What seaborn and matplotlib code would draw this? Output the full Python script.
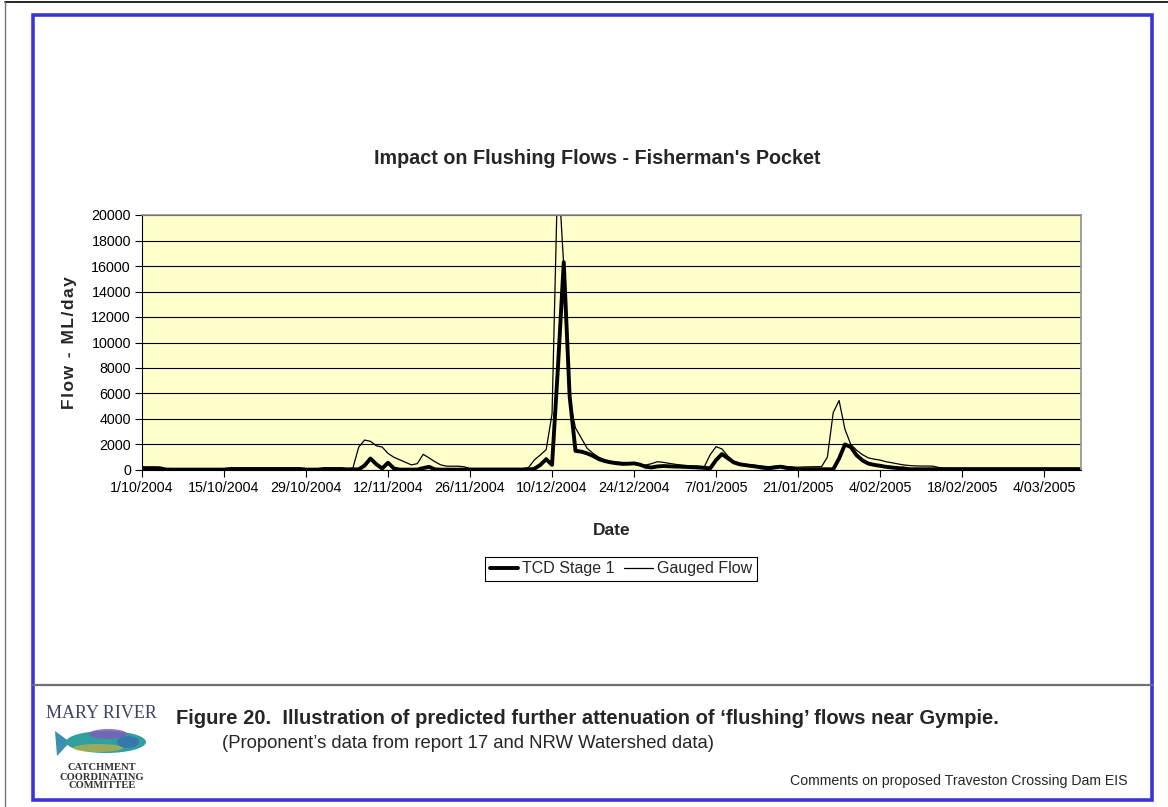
import numpy as np
import pandas as pd
import matplotlib
matplotlib.use("Agg")
import matplotlib.pyplot as plt
import matplotlib.dates as mdates
from matplotlib.patches import Rectangle, Ellipse, Polygon
from matplotlib.lines import Line2D
import seaborn as sns

# ---------------- data (daily, from 1/10/2004) ----------------
start_date = "2004-10-01"
n_days = 161

gauged_flow = [
    150, 150, 150, 140, 60, 50, 50, 50, 50, 50,
    50, 50, 50, 50, 60, 120, 120, 120, 120, 120,
    120, 120, 120, 120, 120, 120, 120, 110, 60, 50,
    50, 90, 100, 100, 80, 80, 150, 1800, 2350, 2250,
    1900, 1800, 1300, 1000, 800, 600, 400, 500, 1230, 950,
    650, 400, 300, 300, 300, 250, 120, 120, 120, 120,
    120, 120, 120, 120, 120, 120, 200, 800, 1180, 1600,
    4400, 23900, 16000, 5500, 3300, 2500, 1700, 1300, 1000, 800,
    680, 620, 590, 575, 520, 450, 390, 500, 650, 600,
    520, 450, 390, 350, 320, 300, 260, 1200, 1830, 1650,
    1100, 700, 520, 450, 390, 350, 300, 260, 300, 340,
    280, 220, 220, 240, 250, 260, 260, 1000, 4500, 5450,
    3200, 2000, 1550, 1200, 950, 850, 780, 650, 570, 480,
    400, 350, 320, 310, 310, 300, 200, 150, 150, 150,
    150, 150, 150, 150, 150, 150, 150, 150, 150, 150,
    150, 150, 150, 150, 150, 150, 150, 150, 150, 150,
    150,
]

tcd_stage1 = [
    150, 150, 150, 140, 40, 30, 30, 30, 30, 30,
    30, 30, 30, 30, 30, 80, 80, 80, 80, 80,
    80, 80, 80, 80, 80, 80, 80, 80, 30, 30,
    30, 80, 80, 80, 80, 50, 50, 50, 350, 900,
    450, 120, 570, 120, 30, 30, 30, 30, 150, 250,
    50, 30, 30, 30, 30, 30, 30, 30, 30, 30,
    30, 30, 30, 30, 30, 30, 30, 100, 400, 850,
    400, 8000, 16300, 5800, 1500, 1440, 1300, 1100, 850, 700,
    600, 530, 480, 490, 520, 420, 250, 200, 280, 310,
    290, 270, 260, 240, 220, 200, 170, 130, 780, 1250,
    920, 600, 450, 380, 320, 260, 180, 130, 200, 260,
    160, 130, 60, 60, 60, 60, 60, 60, 50, 900,
    2000, 1800, 1150, 750, 500, 400, 330, 250, 200, 150,
    130, 60, 60, 60, 60, 60, 60, 60, 60, 60,
    60, 60, 60, 60, 60, 60, 60, 60, 60, 60,
    60, 60, 60, 60, 60, 60, 60, 60, 60, 60,
    60,
]

series_names = ["TCD Stage 1", "Gauged Flow"]
y_ticks = list(range(0, 20001, 2000))

dates = pd.date_range(start_date, periods=n_days, freq="D")
df = pd.DataFrame({"Date": dates, "TCD Stage 1": tcd_stage1, "Gauged Flow": gauged_flow})

# ---------------- figure ----------------
sns.set_style("white")
plt.rcParams["font.family"] = ["Liberation Sans", "DejaVu Sans"]

W, H = 1168, 807
fig = plt.figure(figsize=(W / 100, H / 100), dpi=100)
fig.patch.set_facecolor("white")

def fx(x):
    return x / W

def fy(y):
    return 1 - y / H

# page edges
fig.add_artist(Line2D([fx(5), 1], [fy(2), fy(2)], color="black", lw=1.2))
fig.add_artist(Line2D([fx(5), fx(5)], [fy(2), 0], color="#777777", lw=1.0))
# blue frame
fig.add_artist(Rectangle((fx(33), fy(800)), fx(1152) - fx(33), fy(15) - fy(800),
                         fill=False, edgecolor="#3a36d6", lw=2.6))
# separator
fig.add_artist(Line2D([fx(33), fx(1152)], [fy(685), fy(685)], color="#707070", lw=1.6))

# axes
ax = fig.add_axes([fx(142), fy(470), fx(1081) - fx(142), fy(215) - fy(470)])
ax.set_facecolor("#FFFFCC")

sns.lineplot(data=df, x="Date", y="Gauged Flow", ax=ax, color="black", lw=0.9, label="Gauged Flow")
sns.lineplot(data=df, x="Date", y="TCD Stage 1", ax=ax, color="black", lw=2.8, label="TCD Stage 1")

ax.set_ylim(0, 20000)
x0 = pd.Timestamp(start_date)
ax.set_xlim(x0, x0 + pd.Timedelta(days=160.3))
ax.set_yticks(y_ticks)
ax.yaxis.grid(True, color="black", lw=0.8)
ax.xaxis.grid(False)
ax.set_axisbelow(True)

tick_dates = pd.date_range(start_date, periods=12, freq="14D")
ax.set_xticks(tick_dates)
ax.xaxis.set_major_formatter(
    matplotlib.ticker.FuncFormatter(
        lambda v, p: (lambda d: f"{d.day}/{d.month:02d}/{d.year}")(mdates.num2date(v))))

ax.tick_params(axis="both", which="major", direction="out", length=5, width=0.8,
               colors="black", labelsize=10.3, pad=3, bottom=True, left=True)
for s in ["top", "right"]:
    ax.spines[s].set_color("#909090")
    ax.spines[s].set_linewidth(1.2)
for s in ["left", "bottom"]:
    ax.spines[s].set_color("black")
    ax.spines[s].set_linewidth(0.8)

ax.set_xlabel("Date", fontsize=12.5, fontweight="bold", labelpad=20)
ylab = "\u200a".join("Flow - ML/day")
ax.set_ylabel(ylab, fontsize=12.5, fontweight="bold", labelpad=10)
ax.legend_.remove()

fig.text(fx(597), fy(158), "Impact on Flushing Flows - Fisherman's Pocket",
         ha="center", va="center", fontsize=14.2, fontweight="bold")

handles = [Line2D([], [], color="black", lw=2.8), Line2D([], [], color="black", lw=0.9)]
leg = fig.legend(handles, series_names, loc="center",
                 bbox_to_anchor=(fx(621), fy(569)), ncol=2, fontsize=11.5,
                 frameon=True, fancybox=False, edgecolor="black", framealpha=1,
                 handlelength=1.8, handletextpad=0.25, columnspacing=0.6,
                 borderpad=0.3, borderaxespad=0)
leg.get_frame().set_linewidth(0.8)

# caption
fig.text(fx(176), fy(719), "Figure 20.  Illustration of predicted further attenuation of \u2018flushing\u2019 flows near Gympie.",
         ha="left", va="center", fontsize=14.5, fontweight="bold")
fig.text(fx(222), fy(744), "(Proponent\u2019s data from report 17 and NRW Watershed data)",
         ha="left", va="center", fontsize=13.3)
fig.text(fx(1128), fy(781), "Comments on proposed Traveston Crossing Dam EIS",
         ha="right", va="center", fontsize=10.2)

# logo
serif = ["Liberation Serif", "DejaVu Serif"]
fig.text(fx(101), fy(714), "MARY RIVER", ha="center", va="center", fontsize=13,
         family=serif, color="#3b4466")
fig.add_artist(Polygon([[fx(70), fy(742)], [fx(55), fy(731)], [fx(57), fy(756)]],
                       closed=True, facecolor="#3c8fae", edgecolor="none", transform=fig.transFigure))
fig.add_artist(Ellipse((fx(106), fy(742)), fx(80) - fx(0), fy(0) - fy(22),
                       facecolor="#2f9fa0", edgecolor="none", transform=fig.transFigure))
fig.add_artist(Ellipse((fx(108), fy(734)), fx(38) - fx(0), fy(0) - fy(10),
                       facecolor="#7b5fb8", edgecolor="none", alpha=0.85, transform=fig.transFigure))
fig.add_artist(Ellipse((fx(98), fy(748)), fx(50) - fx(0), fy(0) - fy(8),
                       facecolor="#c8b040", edgecolor="none", alpha=0.7, transform=fig.transFigure))
fig.add_artist(Ellipse((fx(128), fy(742)), fx(22) - fx(0), fy(0) - fy(12),
                       facecolor="#3a6fb0", edgecolor="none", alpha=0.8, transform=fig.transFigure))
for yy, t in [(768, "CATCHMENT"), (777, "COORDINATING"), (786, "COMMITTEE")]:
    fig.text(fx(102), fy(yy), t, ha="center", va="center", fontsize=7.6,
             family=serif, fontweight="bold", color="#333333")

fig.savefig("out.png", dpi=100, facecolor="white")
